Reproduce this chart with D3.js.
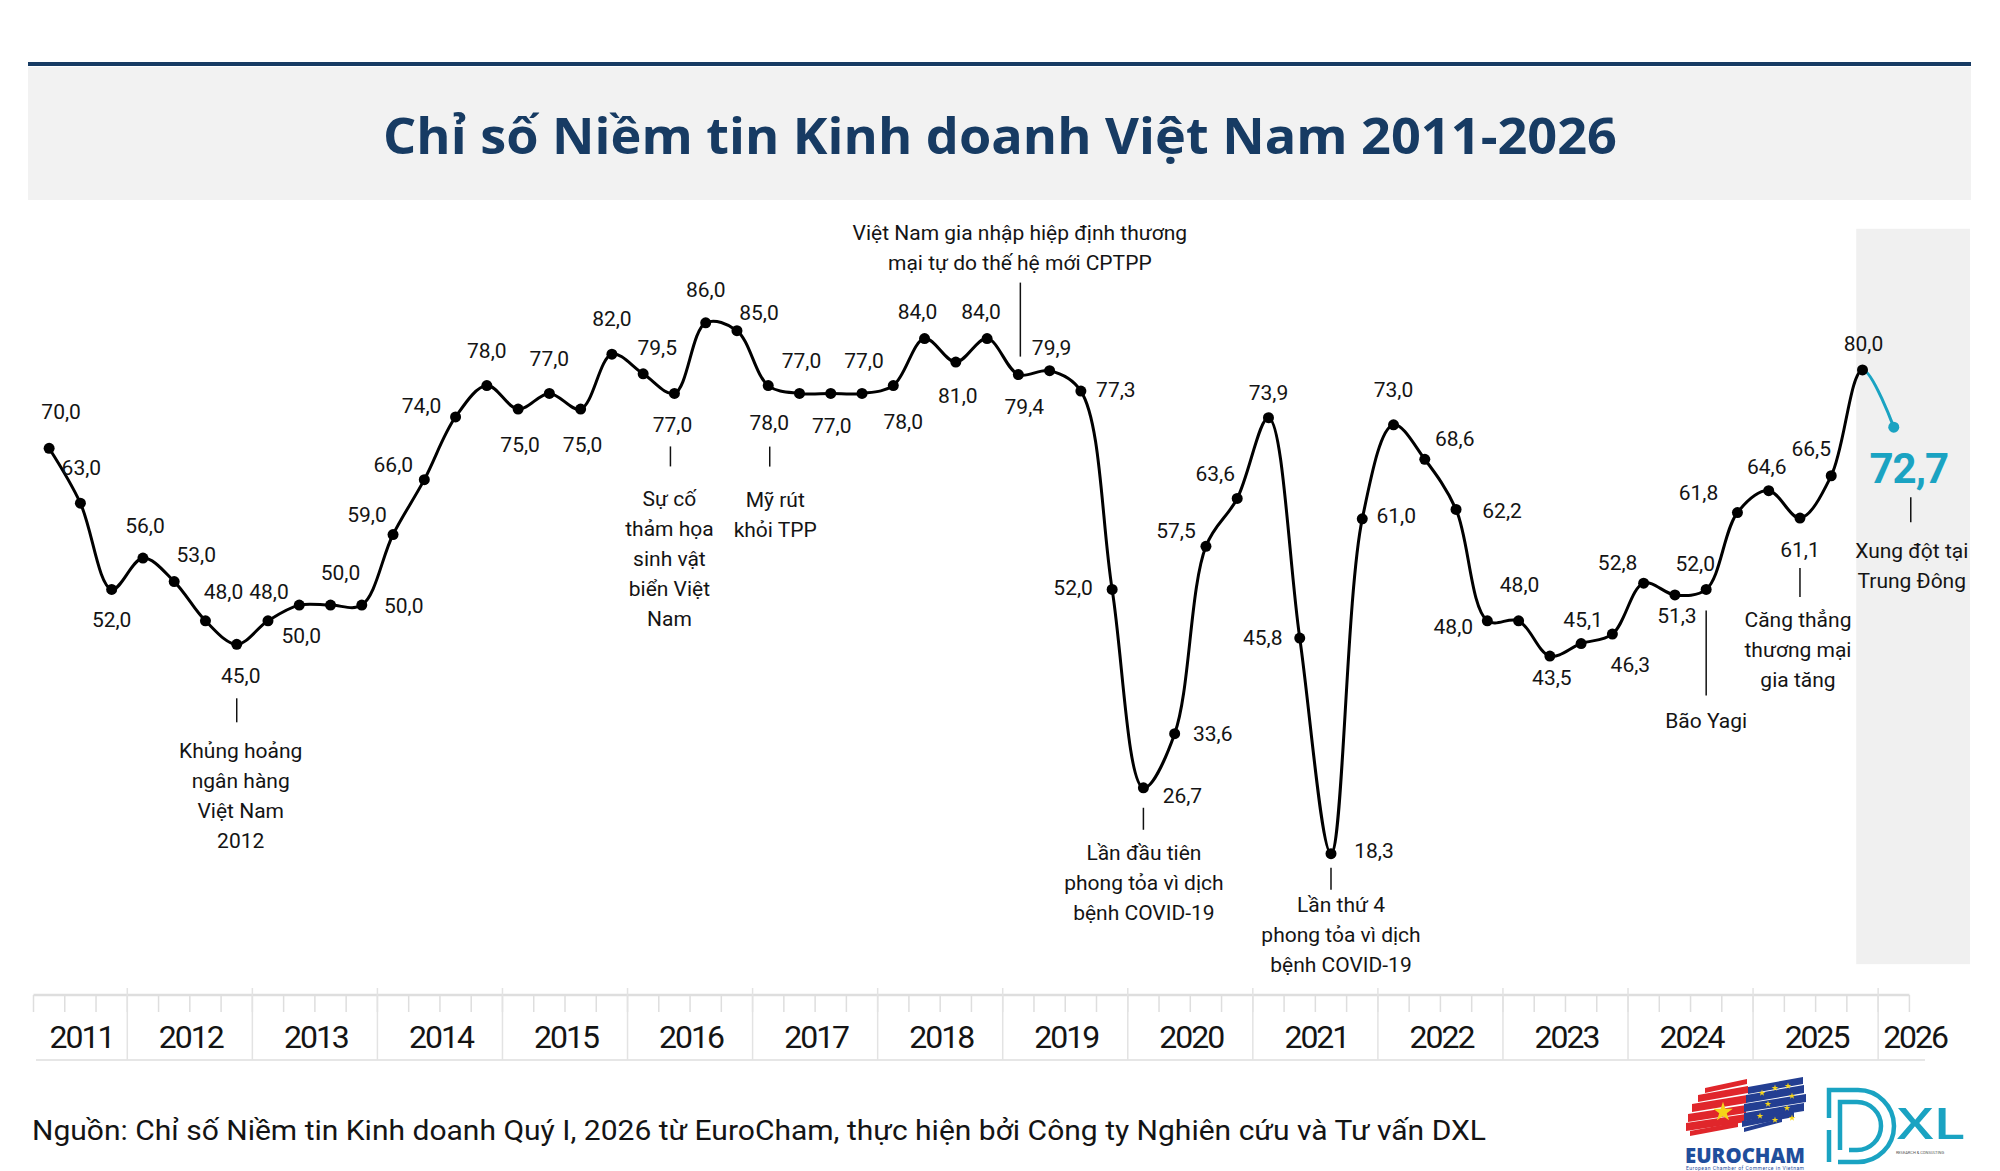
<!DOCTYPE html>
<html>
<head>
<meta charset="utf-8">
<script src="https://cdn.jsdelivr.net/npm/d3@7"></script>
<style>
  html, body { margin: 0; padding: 0; background: #ffffff; }
  svg { display: block; }
</style>
</head>
<body>
<svg id="chart" width="2000" height="1171"></svg>
<script>
// ---------------- DATA ----------------
const title = "Chỉ số Niềm tin Kinh doanh Việt Nam 2011-2026";
const source = "Nguồn: Chỉ số Niềm tin Kinh doanh Quý I, 2026 từ EuroCham, thực hiện bởi Công ty Nghiên cứu và Tư vấn DXL";

const quarters = [
  "Q2-2011","Q3-2011","Q4-2011",
  "Q1-2012","Q2-2012","Q3-2012","Q4-2012",
  "Q1-2013","Q2-2013","Q3-2013","Q4-2013",
  "Q1-2014","Q2-2014","Q3-2014","Q4-2014",
  "Q1-2015","Q2-2015","Q3-2015","Q4-2015",
  "Q1-2016","Q2-2016","Q3-2016","Q4-2016",
  "Q1-2017","Q2-2017","Q3-2017","Q4-2017",
  "Q1-2018","Q2-2018","Q3-2018","Q4-2018",
  "Q1-2019","Q2-2019","Q3-2019","Q4-2019",
  "Q1-2020","Q2-2020","Q3-2020","Q4-2020",
  "Q1-2021","Q2-2021","Q3-2021","Q4-2021",
  "Q1-2022","Q2-2022","Q3-2022","Q4-2022",
  "Q1-2023","Q2-2023","Q3-2023","Q4-2023",
  "Q1-2024","Q2-2024","Q3-2024","Q4-2024",
  "Q1-2025","Q2-2025","Q3-2025","Q4-2025",
  "Q1-2026"
];

const values = [
  70.0, 63.0, 52.0,
  56.0, 53.0, 48.0, 45.0,
  48.0, 50.0, 50.0, 50.0,
  59.0, 66.0, 74.0, 78.0,
  75.0, 77.0, 75.0, 82.0,
  79.5, 77.0, 86.0, 85.0,
  78.0, 77.0, 77.0, 77.0,
  78.0, 84.0, 81.0, 84.0,
  79.4, 79.9, 77.3, 52.0,
  26.7, 33.6, 57.5, 63.6,
  73.9, 45.8, 18.3, 61.0,
  73.0, 68.6, 62.2, 48.0,
  48.0, 43.5, 45.1, 46.3,
  52.8, 51.3, 52.0, 61.8,
  64.6, 61.1, 66.5, 80.0,
  72.7
];

const years = ["2011","2012","2013","2014","2015","2016","2017","2018","2019","2020","2021","2022","2023","2024","2025","2026"];

const annotationQuarters = ["Q4-2012","Q2-2016","Q1-2017","Q1-2019","Q1-2020","Q3-2021","Q3-2024","Q2-2025","Q1-2026"];
const annotationTexts = [
  ["Khủng hoảng","ngân hàng","Việt Nam","2012"],
  ["Sự cố","thảm họa","sinh vật","biển Việt","Nam"],
  ["Mỹ rút","khỏi TPP"],
  ["Việt Nam gia nhập hiệp định thương","mại tự do thế hệ mới CPTPP"],
  ["Lần đầu tiên","phong tỏa vì dịch","bệnh COVID-19"],
  ["Lần thứ 4","phong tỏa vì dịch","bệnh COVID-19"],
  ["Bão Yagi"],
  ["Căng thẳng","thương mại","gia tăng"],
  ["Xung đột tại","Trung Đông"]
];

// ---------------- LAYOUT / STYLE ----------------
const W = 2000, H = 1171;
const plotLeft = 33.5, plotRight = 1909.4;
const yTop = 213.1, yBottom = 997.1;          // value 100 -> 0
const navy = "#173b63";
const teal = "#1aa3c2";
const ink = "#141414";
const grid = "#dedede";
const labelFont = "Roboto, 'Liberation Sans', Arial, sans-serif";

// label offsets [dx (center), dy (baseline)] relative to each point
const labelOffsets = [
  [12,-29],[1,-28],[0,38],
  [2,-25],[22,-20],[18,-22],[4,39],
  [1,-22],[2,38],[10,-25],[42,8],
  [-26,-13],[-31,-8],[-34,-4],[0,-28],
  [2,43],[0,-27],[2,43],[0,-28],
  [14,-19],[-2,39],[0,-26],[22,-11],
  [1,44],[2,-25],[1,40],[2,-25],
  [10,43],[-7,-20],[2,41],[-6,-20],
  [6,39],[2,-16],[35,6],[-39,6],
  [39,15],[38,7],[-30,-8],[-22,-17],
  [0,-18],[-37,7],[43,4],[34,4],
  [0,-28],[30,-13],[46,9],[-34,13],
  [1,-29],[2,29],[2,-17],[18,38],
  [-26,-13],[2,28],[-11,-18],[-39,-13],
  [-2,-17],[0,39],[-20,-20],[1,-19],
  [15,56]
];
// annotation layout: [tick dx, tick y1 off, tick y2 off, text dx, first baseline off]
const annotationLayout = [
  [0, 54, 78, 4, 114],
  [-4, 53, 73, -5, 113],
  [1.5, 61, 81, 7, 121],
  [2, -92, -18, 1.5, -135],
  [0, 20, 42, 0.5, 72],
  [0, 14, 36, 10, 58],
  [0, 21, 106, 0, 139],
  [0, 50, 79, -2, 109],
  [17, 70, 95, 18, 131]
];

const svg = d3.select("#chart");

// ---------------- HEADER ----------------
svg.append("rect").attr("x", 28).attr("y", 62).attr("width", 1943).attr("height", 4).attr("fill", navy);
svg.append("rect").attr("x", 28).attr("y", 67).attr("width", 1943).attr("height", 133).attr("fill", "#f2f2f2");
const titleText = svg.append("text")
  .attr("x", 1000).attr("y", 154)
  .attr("text-anchor", "middle")
  .attr("font-family", "'Open Sans', 'Noto Sans', sans-serif")
  .attr("font-weight", 700)
  .attr("font-size", 51)
  .attr("fill", navy)
  .text(title);
{
  const w = titleText.node().getComputedTextLength();
  if (Math.abs(w - 1234) > 4) titleText.attr("textLength", 1234).attr("lengthAdjust", "spacingAndGlyphs");
}

// ---------------- SCALES ----------------
const x = d3.scaleBand().domain(quarters).range([plotLeft, plotRight]).padding(0);
const bw = x.bandwidth();
const cx = q => x(q) + bw / 2;
const y = d3.scaleLinear().domain([0, 100]).range([yBottom, yTop]);

const data = quarters.map((q, i) => ({ q, v: values[i], i }));
const lastIdx = data.length - 1;

// highlighted band for the latest quarter
svg.append("rect")
  .attr("x", x(quarters[lastIdx - 1]) + bw * 0.3)
  .attr("y", y(98))
  .attr("width", 1970 - (x(quarters[lastIdx - 1]) + bw * 0.3))
  .attr("height", y(4.2) - y(98))
  .attr("fill", "#f0f0f0");

// ---------------- AXIS ----------------
const axisY = 995;
const axisG = svg.append("g");
axisG.append("line").attr("x1", plotLeft).attr("x2", plotRight).attr("y1", axisY).attr("y2", axisY)
  .attr("stroke", grid).attr("stroke-width", 2.5);
axisG.append("line").attr("x1", 36).attr("x2", 1925).attr("y1", 1060).attr("y2", 1060)
  .attr("stroke", "#e6e6e6").attr("stroke-width", 2);
// quarter ticks (band boundaries)
const bounds = quarters.map(q => x(q)).concat([plotRight]);
axisG.selectAll("line.qtick").data(bounds).enter().append("line")
  .attr("class", "qtick")
  .attr("x1", d => d).attr("x2", d => d)
  .attr("y1", axisY).attr("y2", axisY + 17)
  .attr("stroke", grid).attr("stroke-width", 1.5);
// year dividers & labels
const yearInfo = years.map(yr => {
  const qs = quarters.filter(q => q.endsWith(yr));
  const start = x(qs[0]);
  const end = x(qs[qs.length - 1]) + bw;
  return { yr, start, end, n: qs.length };
});
axisG.selectAll("line.ydiv").data(yearInfo.slice(1)).enter().append("line")
  .attr("class", "ydiv")
  .attr("x1", d => d.start).attr("x2", d => d.start)
  .attr("y1", 988).attr("y2", 1060)
  .attr("stroke", "#e3e3e3").attr("stroke-width", 1.5);
axisG.selectAll("text.ylab").data(yearInfo).enter().append("text")
  .attr("class", "ylab")
  .attr("x", d => d.n < 2 ? d.start + 5 : (d.start + d.end) / 2 + 1)
  .attr("y", 1048)
  .attr("text-anchor", d => d.n < 2 ? "start" : "middle")
  .attr("font-family", labelFont)
  .attr("font-size", 32)
  .attr("letter-spacing", -2)
  .attr("fill", ink)
  .text(d => d.yr);

// ---------------- LINE ----------------
const lineGen = d3.line().x(d => cx(d.q)).y(d => y(d.v)).curve(d3.curveCatmullRom.alpha(0.5));
const splitX = cx(quarters[lastIdx - 1]);
const defs = svg.append("defs");
defs.append("clipPath").attr("id", "clipA").append("rect").attr("x", 0).attr("y", 0).attr("width", splitX).attr("height", H);
defs.append("clipPath").attr("id", "clipB").append("rect").attr("x", splitX).attr("y", 0).attr("width", W - splitX).attr("height", H);
svg.append("path").datum(data).attr("d", lineGen).attr("fill", "none")
  .attr("stroke", "#000").attr("stroke-width", 3).attr("clip-path", "url(#clipA)");
svg.append("path").datum(data).attr("d", lineGen).attr("fill", "none")
  .attr("stroke", teal).attr("stroke-width", 3).attr("clip-path", "url(#clipB)");

svg.selectAll("circle.pt").data(data).enter().append("circle")
  .attr("class", "pt")
  .attr("cx", d => cx(d.q)).attr("cy", d => y(d.v))
  .attr("r", 5.5)
  .attr("fill", d => d.i === lastIdx ? teal : "#000");

// value labels
const fmt = v => v.toFixed(1).replace(".", ",");
svg.selectAll("text.vlab").data(data).enter().append("text")
  .attr("class", "vlab")
  .attr("x", d => cx(d.q) + labelOffsets[d.i][0])
  .attr("y", d => y(d.v) + labelOffsets[d.i][1])
  .attr("text-anchor", "middle")
  .attr("font-family", labelFont)
  .attr("font-size", d => d.i === lastIdx ? 42 : 21)
  .attr("font-weight", d => d.i === lastIdx ? 700 : 400)
  .attr("letter-spacing", d => d.i === lastIdx ? -1 : 0)
  .attr("fill", d => d.i === lastIdx ? teal : ink)
  .text(d => fmt(d.v));

// ---------------- ANNOTATIONS ----------------
annotationQuarters.forEach((q, k) => {
  const i = quarters.indexOf(q);
  const px = cx(q), py = y(values[i]);
  const [tdx, t1, t2, txdx, b0] = annotationLayout[k];
  svg.append("line")
    .attr("x1", px + tdx).attr("x2", px + tdx)
    .attr("y1", py + t1).attr("y2", py + t2)
    .attr("stroke", "#111").attr("stroke-width", 1.5);
  const t = svg.append("text")
    .attr("text-anchor", "middle")
    .attr("font-family", labelFont)
    .attr("font-size", 21)
    .attr("fill", ink);
  annotationTexts[k].forEach((line, j) => {
    t.append("tspan").attr("x", px + txdx).attr("y", py + b0 + j * 30).text(line);
  });
});

// ---------------- SOURCE ----------------
svg.append("text")
  .attr("x", 32).attr("y", 1140)
  .attr("font-family", labelFont)
  .attr("font-size", 27)
  .attr("fill", ink)
  .attr("textLength", 1454)
  .attr("lengthAdjust", "spacingAndGlyphs")
  .text(source);

// ---------------- LOGOS ----------------
const logo = svg.append("g");
// EuroCham brush flag
const redStrokes = [[1688,1114,58,8],[1686,1123,60,8],[1692,1104,55,8],[1698,1095,50,7],[1690,1131,48,5],[1705,1088,42,5]];
redStrokes.forEach(([sx, sy, w, h]) => {
  logo.append("path")
    .attr("d", `M${sx},${sy} L${sx + w},${sy - 9} L${sx + w},${sy - 9 + h} L${sx},${sy + h} Z`)
    .attr("fill", "#e0262b");
});
const blueStrokes = [[1744,1104,62,8],[1744,1113,60,8],[1746,1095,58,8],[1748,1087,55,7],[1742,1121,52,6],[1744,1128,38,4]];
blueStrokes.forEach(([sx, sy, w, h]) => {
  logo.append("path")
    .attr("d", `M${sx},${sy} L${sx + w},${sy - 10} L${sx + w},${sy - 10 + h} L${sx},${sy + h} Z`)
    .attr("fill", "#233e92");
});
const star = d3.symbol().type(d3.symbolStar);
logo.append("path").attr("d", star.size(120)()).attr("transform", "translate(1723,1112)").attr("fill", "#f5d418");
[[1762,1093],[1775,1088],[1788,1086],[1792,1096],[1768,1104],[1787,1108],[1760,1116],[1775,1120],[1792,1118]].forEach(([sx, sy]) => {
  logo.append("path").attr("d", star.size(14)()).attr("transform", `translate(${sx},${sy})`).attr("fill", "#f5d418");
});
logo.append("text").attr("x", 1745).attr("y", 1163).attr("text-anchor", "middle")
  .attr("font-family", "'Open Sans', sans-serif").attr("font-weight", 800).attr("font-size", 21)
  .attr("fill", "#1f4e9c").attr("textLength", 120).attr("lengthAdjust", "spacingAndGlyphs").text("EUROCHAM");
logo.append("text").attr("x", 1745).attr("y", 1170).attr("text-anchor", "middle")
  .attr("font-family", "Roboto, sans-serif").attr("font-size", 5)
  .attr("fill", "#1f4e9c").attr("textLength", 118).text("European Chamber of Commerce in Vietnam");
// DXL mark
logo.append("path")
  .attr("d", "M1829,1162 L1829,1090 L1858,1090 A36,36 0 0 1 1858,1162 L1838,1162")
  .attr("fill", "none").attr("stroke", teal).attr("stroke-width", 4.5);
logo.append("path")
  .attr("d", "M1840,1150 L1840,1102 L1857,1102 A24,24 0 0 1 1857,1150 L1849,1150")
  .attr("fill", "none").attr("stroke", teal).attr("stroke-width", 4.5);
logo.append("line").attr("x1", 1829).attr("x2", 1829).attr("y1", 1118).attr("y2", 1130).attr("stroke", "#fff").attr("stroke-width", 6);
logo.append("text").attr("x", 1897).attr("y", 1139)
  .attr("font-family", "'Open Sans', sans-serif").attr("font-weight", 600).attr("font-size", 44)
  .attr("fill", teal).attr("textLength", 68).attr("lengthAdjust", "spacingAndGlyphs").text("XL");
logo.append("text").attr("x", 1920).attr("y", 1154).attr("text-anchor", "middle")
  .attr("font-family", "Roboto, sans-serif").attr("font-size", 4)
  .attr("fill", "#555").text("RESEARCH & CONSULTING");
</script>
</body>
</html>
